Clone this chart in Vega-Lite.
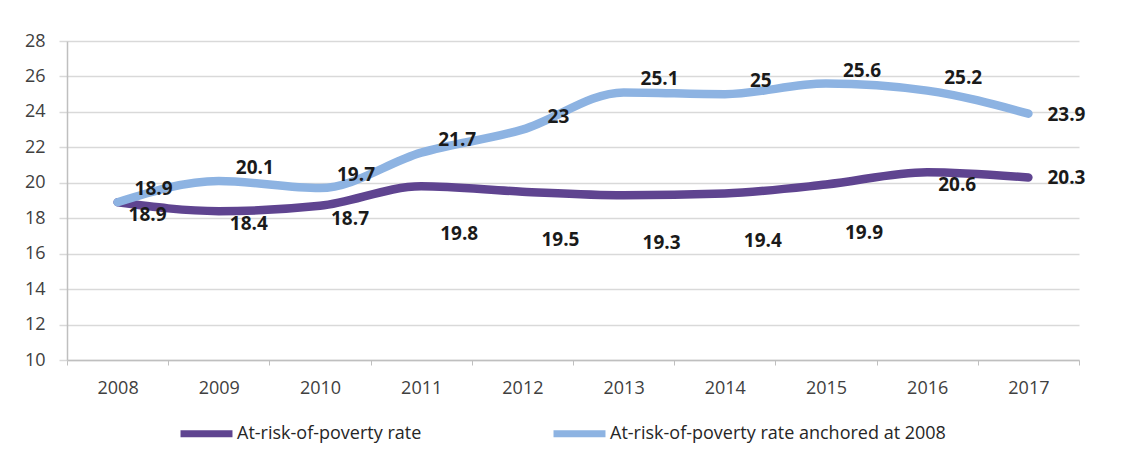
{
  "$schema": "https://vega.github.io/schema/vega-lite/v6.json",
  "width": 1012,
  "height": 319,
  "autosize": {"type": "none"},
  "padding": {"left": 67, "top": 41, "right": 48, "bottom": 93},
  "background": "white",
  "config": {"view": {"stroke": null}, "font": "Open Sans"},
  "data": {
    "values": [
      {"year": "2008", "series": "At-risk-of-poverty rate", "value": 18.9},
      {"year": "2009", "series": "At-risk-of-poverty rate", "value": 18.4},
      {"year": "2010", "series": "At-risk-of-poverty rate", "value": 18.7},
      {"year": "2011", "series": "At-risk-of-poverty rate", "value": 19.8},
      {"year": "2012", "series": "At-risk-of-poverty rate", "value": 19.5},
      {"year": "2013", "series": "At-risk-of-poverty rate", "value": 19.3},
      {"year": "2014", "series": "At-risk-of-poverty rate", "value": 19.4},
      {"year": "2015", "series": "At-risk-of-poverty rate", "value": 19.9},
      {"year": "2016", "series": "At-risk-of-poverty rate", "value": 20.6},
      {"year": "2017", "series": "At-risk-of-poverty rate", "value": 20.3},
      {"year": "2008", "series": "At-risk-of-poverty rate anchored at 2008", "value": 18.9},
      {"year": "2009", "series": "At-risk-of-poverty rate anchored at 2008", "value": 20.1},
      {"year": "2010", "series": "At-risk-of-poverty rate anchored at 2008", "value": 19.7},
      {"year": "2011", "series": "At-risk-of-poverty rate anchored at 2008", "value": 21.7},
      {"year": "2012", "series": "At-risk-of-poverty rate anchored at 2008", "value": 23},
      {"year": "2013", "series": "At-risk-of-poverty rate anchored at 2008", "value": 25.1},
      {"year": "2014", "series": "At-risk-of-poverty rate anchored at 2008", "value": 25},
      {"year": "2015", "series": "At-risk-of-poverty rate anchored at 2008", "value": 25.6},
      {"year": "2016", "series": "At-risk-of-poverty rate anchored at 2008", "value": 25.2},
      {"year": "2017", "series": "At-risk-of-poverty rate anchored at 2008", "value": 23.9}
    ]
  },
  "encoding": {
    "x": {
      "field": "year", "type": "ordinal",
      "scale": {"type": "band", "paddingInner": 0, "paddingOuter": 0},
      "axis": {
        "title": null, "labelAngle": 0, "labelFontSize": 18, "labelColor": "#404040",
        "labelPadding": 14, "domainColor": "#bfbfbf", "domainWidth": 1.5,
        "tickColor": "#bfbfbf", "tickBand": "extent", "tickSize": 5, "grid": false
      }
    },
    "y": {
      "field": "value", "type": "quantitative",
      "scale": {"domain": [10, 28], "nice": false, "zero": false},
      "axis": {
        "title": null, "values": [10, 12, 14, 16, 18, 20, 22, 24, 26, 28],
        "labelFontSize": 18, "labelColor": "#404040", "labelPadding": 14,
        "domainColor": "#bfbfbf", "domainWidth": 1.5, "tickColor": "#d9d9d9", "tickSize": 8,
        "tickWidth": 1.5, "gridColor": "#d9d9d9", "gridWidth": 1.5
      }
    }
  },
  "layer": [
    {
      "mark": {"type": "line", "strokeWidth": 8.5, "interpolate": "monotone", "strokeCap": "round"},
      "encoding": {
        "color": {
          "field": "series", "type": "nominal",
          "scale": {
            "domain": ["At-risk-of-poverty rate", "At-risk-of-poverty rate anchored at 2008"],
            "range": ["#5f4490", "#8db3e2"]
          },
          "legend": {
            "title": null, "orient": "none", "legendX": 110, "legendY": 363,
            "direction": "horizontal", "symbolType": "stroke", "symbolSize": 2700,
            "symbolStrokeWidth": 7, "labelFontSize": 18, "labelColor": "#262626",
            "labelOffset": 1, "columnPadding": 117, "padding": 0, "labelLimit": 600
          }
        },
        "order": {"field": "series"}
      }
    },
    {
      "transform": [{"filter": "datum.series == 'At-risk-of-poverty rate anchored at 2008' && datum.year != '2017'"}],
      "mark": {"type": "text", "fontWeight": "bold", "fontSize": 19, "color": "#1a1a1a", "dx": 36, "dy": -13},
      "encoding": {"text": {"field": "value", "type": "quantitative"}}
    },
    {
      "transform": [{"filter": "datum.year == '2017'"}],
      "mark": {"type": "text", "fontWeight": "bold", "fontSize": 19, "color": "#1a1a1a", "dx": 38, "dy": 1},
      "encoding": {"text": {"field": "value", "type": "quantitative"}}
    },
    {
      "transform": [{"filter": "datum.series == 'At-risk-of-poverty rate' && (datum.year == '2011' || datum.year == '2012' || datum.year == '2013' || datum.year == '2014' || datum.year == '2015')"}],
      "mark": {"type": "text", "fontWeight": "bold", "fontSize": 19, "color": "#1a1a1a", "dx": 38, "dy": 48},
      "encoding": {"text": {"field": "value", "type": "quantitative"}}
    },
    {
      "transform": [{"filter": "datum.series == 'At-risk-of-poverty rate' && (datum.year == '2008' || datum.year == '2009' || datum.year == '2010' || datum.year == '2016')"}],
      "mark": {"type": "text", "fontWeight": "bold", "fontSize": 19, "color": "#1a1a1a", "dx": 30, "dy": 13},
      "encoding": {"text": {"field": "value", "type": "quantitative"}}
    }
  ]
}
